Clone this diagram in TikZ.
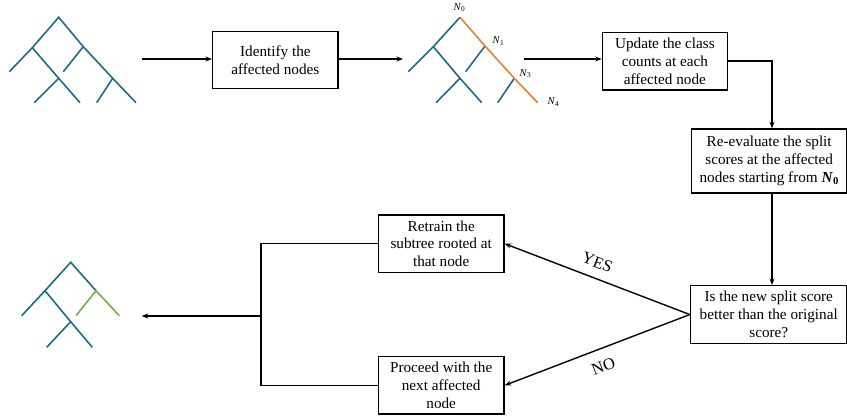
\documentclass[tikz,border=0pt]{standalone}
\usepackage{fontspec}
\setmainfont{Liberation Serif}
\usetikzlibrary{arrows.meta}
\definecolor{treeblue}{RGB}{30,105,140}
\definecolor{pathorange}{RGB}{237,125,49}
\definecolor{newgreen}{RGB}{112,178,70}
\newcommand{\nodeN}[1]{\textit{N}\textsubscript{#1}}
\tikzset{
  stepbox/.style={draw=black, line width=1.4pt, minimum width=125pt, inner sep=0pt,
    align=center, font=\fontsize{15.2}{17.8}\selectfont, anchor=north west},
  flow/.style={line width=1.4pt, -{Stealth[length=6.5pt,width=5pt]}},
  link/.style={line width=1.4pt},
  branch/.style={line width=1.6pt, treeblue},
  hot/.style={line width=1.6pt, pathorange},
  fresh/.style={line width=1.6pt, newgreen},
  nlabel/.style={font=\fontsize{10.5}{11}\selectfont, inner sep=0pt},
  answer/.style={font=\fontsize{16.5}{18}\selectfont, inner sep=0pt}
}
\begin{document}
\begin{tikzpicture}[x=1pt,y=-1pt]
\useasboundingbox (0,0) rectangle (847,417);

% ---- initial tree ----
\coordinate (r1) at (58.7,17.3);
\coordinate (a1) at (32.3,47.7);
\coordinate (b1) at (83.3,46.7);
\coordinate (c1) at (58.7,78.3);
\coordinate (d1) at (112.7,78.3);
\draw[branch] (9.3,71.7) -- (a1) -- (r1) -- (b1) -- (d1) -- (136,102.7);
\draw[branch] (a1) -- (c1) -- (80,102.7);
\draw[branch] (c1) -- (34.3,102.7);
\draw[branch] (b1) -- (63.3,71.7);
\draw[branch] (d1) -- (96.7,102.7);
\coordinate (t1) at (141.7,59);

% ---- tree with the affected path ----
\coordinate (r2) at (460,17.3);
\coordinate (a2) at (433.3,46.7);
\coordinate (b2) at (485,46);
\coordinate (c2) at (460,78.3);
\coordinate (d2) at (514.3,78.3);
\coordinate (e2) at (537.7,102.7);
\draw[branch] (408.3,71.7) -- (a2) -- (r2);
\draw[branch] (a2) -- (c2) -- (481.7,102.7);
\draw[branch] (c2) -- (436,102.7);
\draw[branch] (b2) -- (465.7,71.7);
\draw[branch] (d2) -- (497.7,102.7);
\draw[hot] (r2) -- (b2) -- (d2) -- (e2);
\node[nlabel] (n0) at (459.5,7.5) {\nodeN{0}};
\node[nlabel] (n1) at (498.5,41) {\nodeN{1}};
\node[nlabel] (n3) at (525.5,73.5) {\nodeN{3}};
\node[nlabel] (n4) at (553.5,102) {\nodeN{4}};
\coordinate (t2in) at (403,59);
\coordinate (t2out) at (524,59);

% ---- retrained tree ----
\coordinate (r3) at (70.7,262.3);
\coordinate (a3) at (45,290.7);
\coordinate (b3) at (96,290.7);
\coordinate (c3) at (70.7,321.7);
\draw[branch] (21.7,315.7) -- (a3) -- (r3) -- (b3);
\draw[branch] (a3) -- (c3) -- (92.3,347.3);
\draw[branch] (c3) -- (46.7,347.3);
\draw[fresh] (76,315.7) -- (b3) -- (119.3,315.7);
\coordinate (t3) at (141.7,316);

% ---- process boxes ----
\node[stepbox, minimum width=125.3pt, minimum height=57.3pt] (identify) at (212,30.7)
  {Identify the\\affected nodes};
\node[stepbox, minimum width=125pt, minimum height=57.6pt] (update) at (601.7,31.7)
  {Update the class\\counts at each\\affected node};
\node[stepbox, minimum width=155pt, minimum height=64pt] (reeval) at (691,128.3)
  {Re-evaluate the split\\scores at the affected\\nodes starting from \textbf{\textit{N}\textsubscript{0}}};
\node[stepbox, minimum width=156.5pt, minimum height=57.7pt] (decide) at (689.8,285)
  {Is the new split score\\better than the original\\score?};
\node[stepbox, minimum width=125.6pt, minimum height=57.4pt] (retrain) at (377.7,214.3)
  {Retrain the\\subtree rooted at\\that node};
\node[stepbox, minimum width=125.6pt, minimum height=57.3pt] (proceed) at (377.7,356)
  {Proceed with the\\next affected\\node};

% ---- connectors ----
\draw[flow] (t1) -- (t1 -| identify.west);
\draw[flow] (identify.east |- t2in) -- (t2in);
\draw[flow] (t2out) -- (t2out -| update.west);
\coordinate (bendA) at (772,61);
\draw[flow] (update.east |- bendA) -- (bendA) -- (bendA |- reeval.north);
\draw[flow] (reeval.south -| bendA) -- (bendA |- decide.north);
\draw[flow] (decide.west) -- (retrain.east)
  node[answer, pos=0.53, sloped, above=9.5pt] (yes) {YES};
\draw[flow] (decide.west) -- (proceed.east)
  node[answer, pos=0.5, sloped, below=11pt] (no) {NO};
\coordinate (join) at (261,316);
\draw[link] (retrain.west) -- (join |- retrain.west) -- (join |- proceed.west) -- (proceed.west);
\draw[flow] (join) -- (t3);
\end{tikzpicture}
\end{document}
